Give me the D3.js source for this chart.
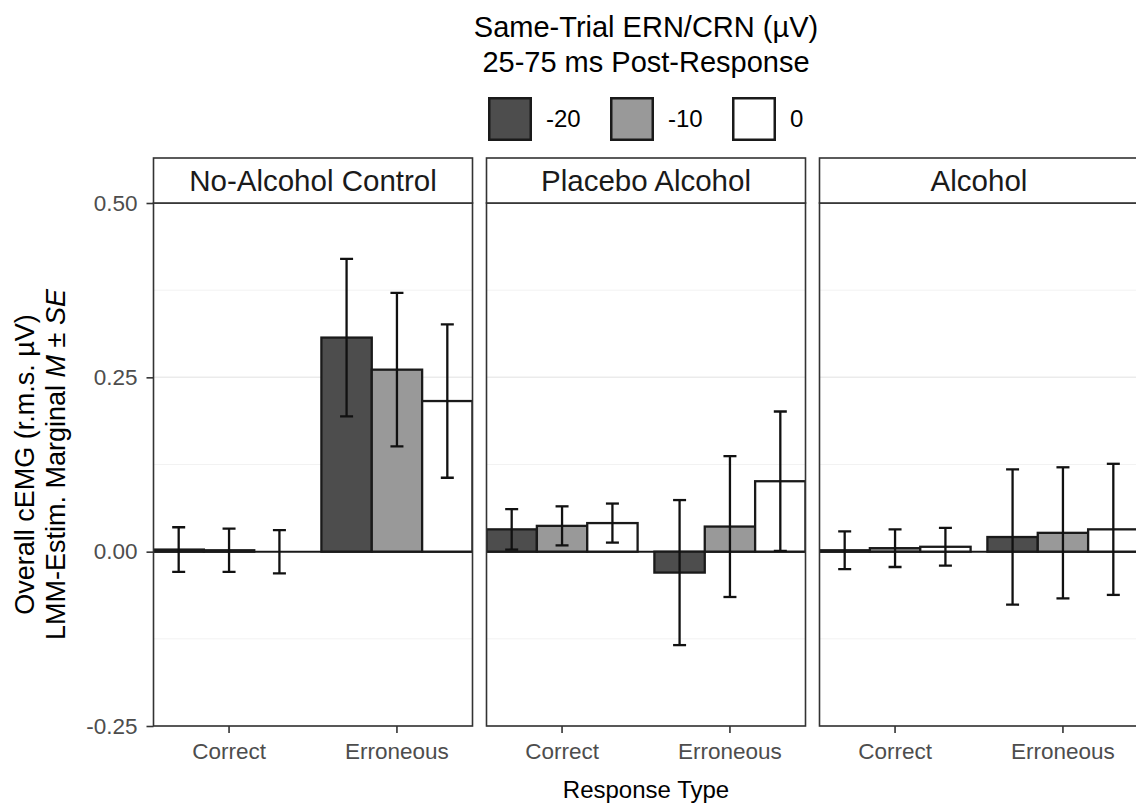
<!DOCTYPE html>
<html>
<head>
<meta charset="utf-8">
<script src="https://cdn.jsdelivr.net/npm/d3@7"></script>
<style>
  body { margin: 0; background: #fff; }
  svg { display: block; font-family: "Liberation Sans", Arial, sans-serif; }
</style>
</head>
<body>
<div id="chart"></div>
<script>
// data
var conditions = ['No-Alcohol Control', 'Placebo Alcohol', 'Alcohol'];
var responseTypes = ['Correct', 'Erroneous'];
var ernLevels = ['-20', '-10', '0'];
var fillColors = ['#4d4d4d', '#999999', '#ffffff'];
var yTicks = [-0.25, 0, 0.25, 0.5];
var yMinor = [-0.125, 0.125, 0.375];

// means, [condition][responseType][ernLevel]
var means = [
	[[0.003, 0.002, 0.000], [0.307, 0.261, 0.216]],
	[[0.032, 0.037, 0.041], [-0.030, 0.036, 0.101]],
	[[0.002, 0.005, 0.007], [0.021, 0.027, 0.032]]
];
// standard errors, same layout
var ses = [
	[[0.032, 0.031, 0.031], [0.113, 0.110, 0.110]],
	[[0.029, 0.028, 0.028], [0.104, 0.101, 0.100]],
	[[0.027, 0.027, 0.027], [0.097, 0.094, 0.094]]
];

var params = {
	width: 1136, height: 807,
	panelLeft: 153.5, panelW: 319, panelGap: 14,
	panelTop: 203, panelBottom: 726, stripTop: 158,
	border: '#333333'
};

function flatData(){
	var out = [];
	conditions.forEach(function(c, ci){
		responseTypes.forEach(function(r, ri){
			ernLevels.forEach(function(l, li){
				out.push({cond: ci, resp: r, level: l, li: li, m: means[ci][ri][li], se: ses[ci][ri][li]});
			});
		});
	});
	return out;
}

function createChart(){
	var svg = d3.select('#chart').append('svg')
		.attr('width', params.width)
		.attr('height', params.height);

	var y = d3.scaleLinear()
		.domain([-0.25, 0.5])
		.range([params.panelBottom, params.panelTop]);

	var x = d3.scaleBand()
		.domain(responseTypes)
		.range([0, params.panelW])
		.paddingInner(0.1)
		.paddingOuter(0);

	var xInner = d3.scaleBand()
		.domain(ernLevels)
		.range([0, x.bandwidth()]);

	var fill = d3.scaleOrdinal().domain(ernLevels).range(fillColors);

	var data = flatData();
	var fmt = function(d){ return d3.format('.2f')(d).replace('\u2212', '-'); };

	conditions.forEach(function(cond, ci){
		var px = params.panelLeft + ci * (params.panelW + params.panelGap);
		var g = svg.append('g').attr('transform', 'translate(' + px + ',0)');
		var clipId = 'clip' + ci;
		g.append('clipPath').attr('id', clipId)
			.append('rect')
				.attr('x', 0).attr('y', params.panelTop)
				.attr('width', params.panelW).attr('height', params.panelBottom - params.panelTop);

		// grid
		g.selectAll('.minor').data(yMinor).enter().append('line')
			.attr('x1', 0).attr('x2', params.panelW)
			.attr('y1', function(d){ return y(d); }).attr('y2', function(d){ return y(d); })
			.style('stroke', '#f2f2f2').style('stroke-width', 1);
		g.selectAll('.major').data(yTicks).enter().append('line')
			.attr('x1', 0).attr('x2', params.panelW)
			.attr('y1', function(d){ return y(d); }).attr('y2', function(d){ return y(d); })
			.style('stroke', '#ebebeb').style('stroke-width', 1.5);

		var inner = g.append('g').attr('clip-path', 'url(#' + clipId + ')');

		// zero line
		inner.append('line')
			.attr('x1', 0).attr('x2', params.panelW)
			.attr('y1', y(0)).attr('y2', y(0))
			.style('stroke', '#1a1a1a').style('stroke-width', 2);

		var sub = data.filter(function(d){ return d.cond == ci; });

		inner.selectAll('rect.bar').data(sub).enter().append('rect')
			.attr('class', 'bar')
			.attr('x', function(d){ return x(d.resp) + xInner(d.level); })
			.attr('width', xInner.bandwidth())
			.attr('y', function(d){ return Math.min(y(d.m), y(0)); })
			.attr('height', function(d){ return Math.abs(y(d.m) - y(0)); })
			.style('fill', function(d){ return fill(d.level); })
			.style('stroke', '#1a1a1a')
			.style('stroke-width', 2.3);

		// error bars
		var capW = 13;
		var eb = inner.selectAll('g.eb').data(sub).enter().append('g')
			.attr('transform', function(d){ return 'translate(' + (x(d.resp) + xInner(d.level) + xInner.bandwidth()/2) + ',0)'; });
		eb.append('line')
			.attr('x1', 0).attr('x2', 0)
			.attr('y1', function(d){ return y(d.m + d.se); })
			.attr('y2', function(d){ return y(d.m - d.se); });
		eb.append('line')
			.attr('x1', -capW/2).attr('x2', capW/2)
			.attr('y1', function(d){ return y(d.m + d.se); })
			.attr('y2', function(d){ return y(d.m + d.se); });
		eb.append('line')
			.attr('x1', -capW/2).attr('x2', capW/2)
			.attr('y1', function(d){ return y(d.m - d.se); })
			.attr('y2', function(d){ return y(d.m - d.se); });
		eb.selectAll('line').style('stroke', '#111').style('stroke-width', 2.3);

		// panel border
		g.append('rect')
			.attr('x', 0).attr('y', params.panelTop)
			.attr('width', params.panelW).attr('height', params.panelBottom - params.panelTop)
			.style('fill', 'none').style('stroke', params.border).style('stroke-width', 1.6);

		// strip
		g.append('rect')
			.attr('x', 0).attr('y', params.stripTop)
			.attr('width', params.panelW).attr('height', params.panelTop - params.stripTop)
			.style('fill', '#fff').style('stroke', params.border).style('stroke-width', 1.6);
		g.append('text')
			.attr('x', params.panelW/2).attr('y', (params.stripTop + params.panelTop)/2)
			.attr('dy', '0.35em')
			.attr('text-anchor', 'middle')
			.style('font-size', '29.5px').style('fill', '#1a1a1a')
			.text(cond);

		// x axis
		var xAxis = g.append('g')
			.attr('transform', 'translate(0,' + params.panelBottom + ')')
			.call(d3.axisBottom(x).tickSize(7).tickPadding(10));
		xAxis.select('.domain').remove();
		xAxis.selectAll('line').style('stroke', params.border).style('stroke-width', 1.6);
		xAxis.selectAll('text').style('font-size', '22.5px').style('fill', '#4d4d4d')
			.style('font-family', '"Liberation Sans", Arial, sans-serif');

		if (ci == 0){
			var yAxis = g.append('g')
				.call(d3.axisLeft(y).tickValues(yTicks).tickFormat(fmt).tickSize(7).tickPadding(9));
			yAxis.select('.domain').remove();
			yAxis.selectAll('line').style('stroke', params.border).style('stroke-width', 1.6);
			yAxis.selectAll('text').style('font-size', '22.5px').style('fill', '#4d4d4d')
				.style('font-family', '"Liberation Sans", Arial, sans-serif');
		}
	});

	// axis titles
	var midX = params.panelLeft + (3 * params.panelW + 2 * params.panelGap) / 2;
	svg.append('text')
		.attr('x', midX).attr('y', 798)
		.attr('text-anchor', 'middle')
		.style('font-size', '24px').style('fill', '#000')
		.text('Response Type');

	var midY = (params.panelTop + params.panelBottom) / 2;
	var yt = svg.append('text')
		.attr('transform', 'translate(34,' + midY + ') rotate(-90)')
		.attr('text-anchor', 'middle')
		.style('font-size', '27px').style('fill', '#000');
	yt.append('tspan').attr('x', 0).attr('dy', 0).text('Overall cEMG (r.m.s. µV)');
	var l2 = yt.append('tspan').attr('x', 0).attr('dy', 31);
	l2.append('tspan').text('LMM-Estim. Marginal ');
	l2.append('tspan').style('font-style', 'italic').text('M');
	l2.append('tspan').text(' ± ');
	l2.append('tspan').style('font-style', 'italic').text('SE');

	// legend
	var lt = svg.append('text').attr('text-anchor', 'middle')
		.style('font-size', '29px').style('fill', '#000');
	lt.append('tspan').attr('x', midX).attr('y', 37).text('Same-Trial ERN/CRN (µV)');
	lt.append('tspan').attr('x', midX).attr('y', 72).text('25-75 ms Post-Response');

	var keyX = [488, 610, 732];
	var leg = svg.selectAll('g.key').data(ernLevels).enter().append('g')
		.attr('transform', function(d, i){ return 'translate(' + keyX[i] + ',97)'; });
	leg.append('rect')
		.attr('x', 1.25).attr('y', 1.25).attr('width', 41.5).attr('height', 41.5)
		.style('fill', function(d){ return fill(d); })
		.style('stroke', '#1a1a1a').style('stroke-width', 2.5);
	leg.append('text')
		.attr('x', 58).attr('y', 22).attr('dy', '0.35em')
		.style('font-size', '24px').style('fill', '#000')
		.text(function(d){ return d; });
}

createChart();
</script>
</body>
</html>
